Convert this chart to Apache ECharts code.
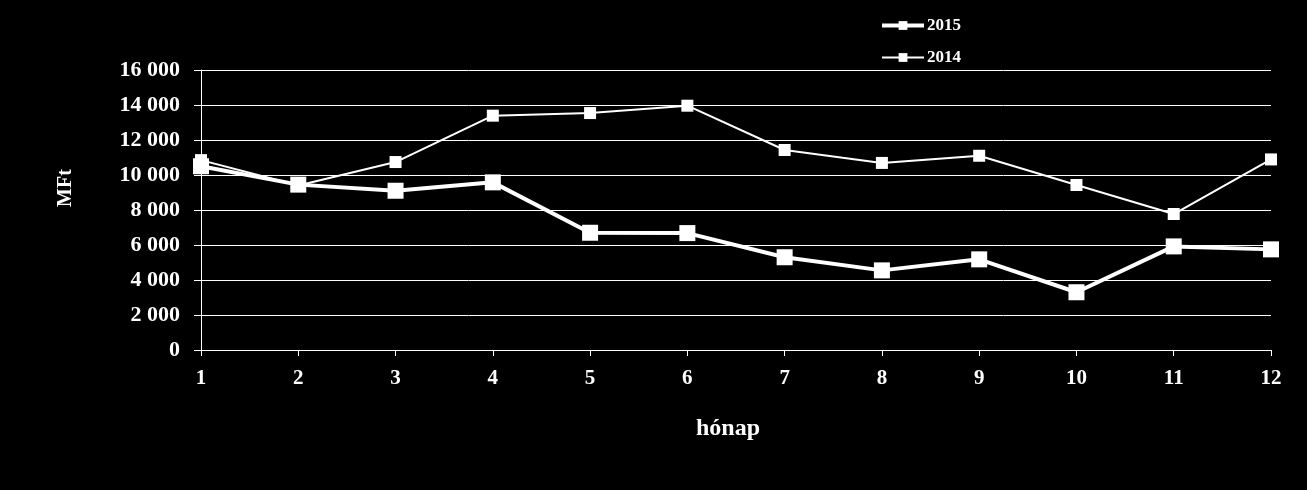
<!DOCTYPE html>
<html>
<head>
<meta charset="utf-8">
<script src="https://cdn.jsdelivr.net/npm/echarts@6/dist/echarts.min.js"></script>
<style>
html,body{margin:0;padding:0;background:#000;}
#c{width:1307px;height:490px;}
</style>
</head>
<body>
<div id="c"></div>
<script>
const months = ['1','2','3','4','5','6','7','8','9','10','11','12'];
const values2015 = [10500, 9450, 9100, 9580, 6700, 6680, 5300, 4550, 5180, 3300, 5920, 5750];
const values2014 = [10850, 9400, 10740, 13390, 13540, 13960, 11430, 10690, 11100, 9430, 7770, 10890];
const yMin = 0, yMax = 16000, yStep = 2000;

const font = '"Liberation Serif", "Times New Roman", serif';
const chart = echarts.init(document.getElementById('c'));
chart.setOption({
  backgroundColor: '#000',
  animation: false,
  textStyle: { fontFamily: font, color: '#fff' },
  legend: {
    orient: 'vertical',
    left: 875,
    top: 12,
    itemWidth: 42,
    itemHeight: 11,
    itemGap: 15,
    textStyle: { color: '#fff', fontFamily: font, fontWeight: 'bold', fontSize: 17, padding: [0,0,0,-2] },
    data: [
      { name: '2015', lineStyle: { width: 4, color: '#fff' } },
      { name: '2014', lineStyle: { width: 2, color: '#fff' } }
    ]
  },
  grid: { left: 201, right: 36, top: 70, bottom: 140, containLabel: false },
  xAxis: {
    type: 'category',
    data: months,
    boundaryGap: false,
    name: 'hónap',
    nameLocation: 'middle',
    nameGap: 67,
    nameTextStyle: { color: '#fff', fontFamily: font, fontWeight: 'bold', fontSize: 24, padding: [0,16,0,0] },
    axisLine: { show: true, lineStyle: { color: '#fff', width: 1 } },
    axisTick: { show: true, alignWithLabel: true, length: 6, lineStyle: { color: '#fff' } },
    axisLabel: { color: '#fff', fontFamily: font, fontWeight: 'bold', fontSize: 21, margin: 18 },
    splitLine: { show: false }
  },
  yAxis: {
    type: 'value',
    min: yMin, max: yMax, interval: yStep,
    name: 'MFt',
    nameLocation: 'middle',
    nameGap: 125,
    nameRotate: 90,
    nameTextStyle: { color: '#fff', fontFamily: font, fontWeight: 'bold', fontSize: 20, padding: [0,0,0,44] },
    axisLine: { show: true, lineStyle: { color: '#fff', width: 1 } },
    axisTick: { show: true, length: 7, lineStyle: { color: '#fff' } },
    axisLabel: {
      color: '#fff', fontFamily: font, fontWeight: 'bold', fontSize: 22, margin: 21,
      formatter: v => String(v).replace(/\B(?=(\d{3})+(?!\d))/g, ' ')
    },
    splitLine: { show: true, lineStyle: { color: '#fff', width: 1 } }
  },
  series: [
    {
      name: '2015', type: 'line', data: values2015,
      symbol: 'rect', symbolSize: 16,
      lineStyle: { color: '#fff', width: 4 },
      itemStyle: { color: '#fff' },
      z: 3
    },
    {
      name: '2014', type: 'line', data: values2014,
      symbol: 'rect', symbolSize: 12,
      lineStyle: { color: '#fff', width: 2 },
      itemStyle: { color: '#fff' },
      z: 2
    }
  ]
});
</script>
</body>
</html>
